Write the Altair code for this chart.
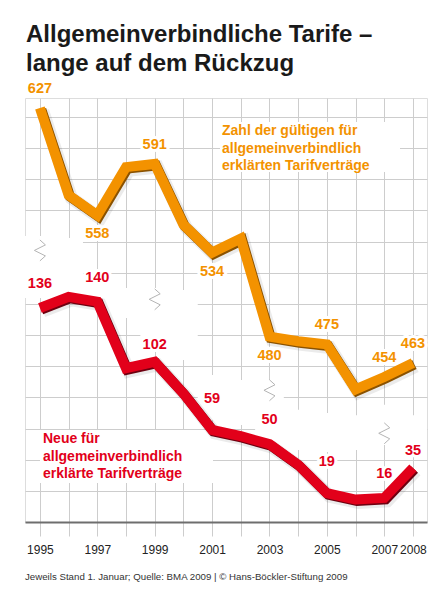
import altair as alt
import pandas as pd

FONT = "Liberation Sans"
ORANGE = "#F39200"
RED = "#E2001A"
GRID = "#cdcdcd"

# ---- data -----------------------------------------------------------------
years = list(range(1995, 2009))
gueltig = [627, 571, 558, 589, 591, 552, 534, 543, 480, 477, 475, 446, 454, 463]
neu = [136, 143, 140, 98, 102, 82, 59, 55, 50, 37, 19, 15, 16, 35]
tick_label_years = [1995, 1997, 1999, 2001, 2003, 2005, 2007, 2008]

orange_above = [1995, 1999, 2005, 2007, 2008]
orange_below = [1997, 2001, 2003]
red_far = [2001, 2005]
red_mid = [1995, 1997, 2003, 2007]
red_near = [1999, 2008]

grid_levels = list(range(1, 14))
band_years = [1994.48] + years + [2008.49]
band_top = [9.18, 9.18, 9.12, 7.90, 7.51, 7.51, 7.45, 4.72, 4.56, 4.56, 3.60, 3.50, 3.43, 3.76, 3.43, 3.43]
band_bottom = [7.19, 7.19, 7.35, 6.74, 6.55, 5.52, 5.20, 3.27, 3.11, 2.63, 2.31, 2.25, 2.31, 2.47, 2.47, 2.47]
break_years = [1995, 1999, 2003, 2007]
break_levels = [8.70, 7.13, 4.21, 2.83]

title_text = "Allgemeinverbindliche Tarife –\nlange auf dem Rückzug"
orange_desc = "Zahl der gültigen für\nallgemeinverbindlich\nerklärten Tarifverträge"
red_desc = "Neue für\nallgemeinverbindlich\nerklärte Tarifverträge"
footnote = "Jeweils Stand 1. Januar; Quelle: BMA 2009 | © Hans-Böckler-Stiftung 2009"

df_o = pd.DataFrame({"year": years, "value": gueltig})
df_r = pd.DataFrame({"year": years, "value": neu})
df_band = pd.DataFrame({"year": band_years, "top": band_top, "bottom": band_bottom})
df_break = pd.DataFrame({"year": break_years, "level": break_levels})

O_DOM = [360.76, 633.43]
R_DOM = [0.81, 268.66]
G_DOM = [0, 13.61]

label_expr = "indexof([" + ",".join(str(y) for y in tick_label_years) + "], datum.value) >= 0 ? datum.label : ''"
x_axis = alt.Axis(values=years, format="d", labelExpr=label_expr, grid=True,
                  gridColor=GRID, gridWidth=1, tickColor=GRID, tickSize=14,
                  domainColor="#6e6e6e", domainWidth=2, labelFont=FONT, labelFontSize=12,
                  labelColor="#222222", labelPadding=8, labelOverlap=False, title=None)
x_scale = alt.Scale(domain=[1994.48, 2008.49], nice=False, zero=False)


def X(field="year"):
    return alt.X(f"{field}:Q", scale=x_scale, axis=x_axis)


def ys(field, dom):
    return alt.Y(f"{field}:Q", scale=alt.Scale(domain=dom, nice=False, zero=False), axis=None)


layers = []

# grid carrier + white break band
layers.append(
    alt.Chart(df_band).mark_area(interpolate="step", color="white", opacity=1).encode(
        x=X(),
        y=alt.Y("top:Q", scale=alt.Scale(domain=G_DOM, nice=False, zero=False),
                axis=alt.Axis(values=grid_levels, grid=True, gridColor=GRID, labels=False,
                              ticks=False, domain=False, title=None)),
        y2="bottom:Q",
    )
)

# zigzag break marks
layers.append(
    alt.Chart(df_break).mark_point(shape="M0,-1L0.5,-0.55L-0.5,-0.05L0.5,0.45L0,0.9",
                                   filled=False, color="#b4b4b4", strokeWidth=1, size=484, opacity=1).encode(
        x=X(), y=ys("level", G_DOM)
    )
)

# description boxes (white background)
box_df = pd.DataFrame({"k": [0]})
layers.append(alt.Chart(box_df).mark_rect(color="white").encode(
    x=alt.value(195), x2=alt.value(375), y=alt.value(24), y2=alt.value(74)))
layers.append(alt.Chart(box_df).mark_rect(color="white").encode(
    x=alt.value(15), x2=alt.value(188), y=alt.value(332), y2=alt.value(385)))


def series(df, dom, color, shadow, dx_units, dy_units):
    out = []
    out.append(alt.Chart(df).transform_calculate(sx=f"datum.year + {dx_units * 2}", sv=f"datum.value - {dy_units * 2}")
               .mark_line(color="#000000", opacity=0.08, strokeWidth=13, strokeJoin="miter").encode(
        x=X("sx"), y=ys("sv", dom)))
    out.append(alt.Chart(df).transform_calculate(sx=f"datum.year + {dx_units}", sv=f"datum.value - {dy_units}")
               .mark_line(color=shadow, strokeWidth=10, strokeJoin="miter").encode(
        x=X("sx"), y=ys("sv", dom)))
    out.append(alt.Chart(df).mark_line(color=color, strokeWidth=10, strokeJoin="miter").encode(
        x=X(), y=ys("value", dom)))
    return out


layers += series(df_o, O_DOM, ORANGE, "#8a5200", 0.05, 1.0)
layers += series(df_r, R_DOM, RED, "#6e0010", 0.05, 0.95)


def labels(df, yrs, dom, color, dy):
    res = []
    base = alt.Chart(df).transform_filter(alt.FieldOneOfPredicate(field="year", oneOf=yrs))
    enc = dict(x=X(), y=ys("value", dom), text=alt.Text("value:Q", format="d"))
    res.append(base.mark_text(font=FONT, fontSize=14.5, fontWeight="bold", color="white", stroke="white",
                              strokeWidth=6, strokeJoin="round", dy=dy, baseline="middle").encode(**enc))
    res.append(base.mark_text(font=FONT, fontSize=14.5, fontWeight="bold", color=color, dy=dy,
                              baseline="middle").encode(**enc))
    return res


layers += labels(df_o, orange_above, O_DOM, ORANGE, -19)
layers += labels(df_o, orange_below, O_DOM, ORANGE, 19)
layers += labels(df_r, red_far, R_DOM, RED, -31)
layers += labels(df_r, red_mid, R_DOM, RED, -24)
layers += labels(df_r, red_near, R_DOM, RED, -17)

# texts
layers.append(alt.Chart(pd.DataFrame({"t": [orange_desc]})).mark_text(
    font=FONT, fontSize=14, fontWeight="bold", color=ORANGE, align="left", baseline="alphabetic",
    lineBreak="\n", lineHeight=17.5).encode(x=alt.value(197), y=alt.value(37), text="t:N"))
layers.append(alt.Chart(pd.DataFrame({"t": [red_desc]})).mark_text(
    font=FONT, fontSize=14, fontWeight="bold", color=RED, align="left", baseline="alphabetic",
    lineBreak="\n", lineHeight=17.5).encode(x=alt.value(18), y=alt.value(345), text="t:N"))
layers.append(alt.Chart(pd.DataFrame({"t": [title_text]})).mark_text(
    font=FONT, fontSize=24, fontWeight="bold", color="#1a1a1a", align="left", baseline="alphabetic",
    lineBreak="\n", lineHeight=29).encode(x=alt.value(1), y=alt.value(-56), text="t:N"))
layers.append(alt.Chart(pd.DataFrame({"t": [footnote]})).mark_text(
    font=FONT, fontSize=9.7, color="#333333", align="left", baseline="alphabetic").encode(
    x=alt.value(0), y=alt.value(482), text="t:N"))

chart = alt.layer(*layers).resolve_scale(y="independent").properties(
    width=402, height=424,
    autosize=alt.AutoSizeParams(type="none"),
    padding={"left": 17, "top": 90, "right": 5, "bottom": 62},
).configure_view(strokeWidth=0).configure(background="white")

chart.save("out.html", embed_options={"renderer": "svg", "actions": False})
